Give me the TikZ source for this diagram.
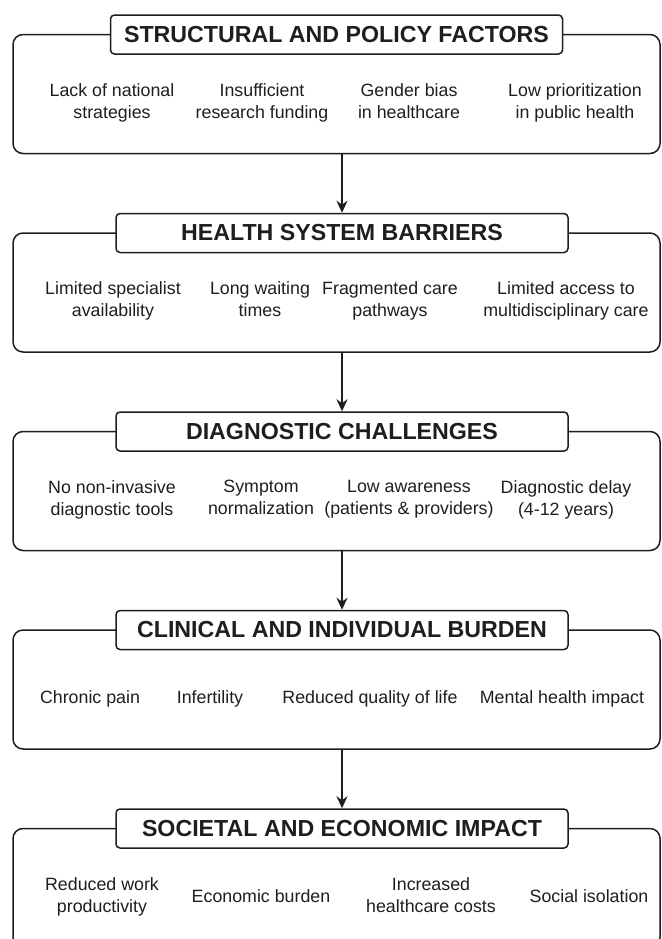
\documentclass[tikz,border=0pt]{standalone}
\usepackage{fontspec}
\setmainfont{Liberation Sans}
\usepackage{tikz}
\usetikzlibrary{arrows.meta,positioning}
\definecolor{ink}{RGB}{30,30,30}

\begin{document}
\begin{tikzpicture}[x=0.5pt,y=-0.5pt,>={Stealth[length=6pt,width=5.5pt]},
  panel/.style={draw=ink,line width=0.75pt,rounded corners=5pt,minimum width=323.5pt,minimum height=59.5pt,inner sep=0pt},
  head/.style={draw=ink,line width=0.75pt,rounded corners=2pt,fill=white,text=ink,minimum width=226pt,minimum height=19.5pt,inner sep=0pt,font=\fontsize{11.6}{14}\selectfont\bfseries},
  item/.style={align=center,text=ink,inner sep=1pt,font=\fontsize{8.9}{11}\selectfont,execute at begin node=\strut,execute at end node=\strut},
  flow/.style={->,draw=ink,line width=0.75pt}]
  \useasboundingbox (0,0) rectangle (661,939);
  % structural and policy factors
  \node[panel] (P0) at (336.5,94) {};
  \node[head] (H0) at (336.5,34.5) {STRUCTURAL AND POLICY FACTORS};
  \node[item] (A1) at (112,104) {Lack of national\\strategies};
  \node[item] (A2) at (262,104) {Insufficient\\research funding};
  \node[item] (A3) at (409,104) {Gender bias\\in healthcare};
  \node[item] (A4) at (575,104) {Low prioritization\\in public health};
  % health system barriers
  \node[panel] (P1) at (336.5,292.5) {};
  \node[head] (H1) at (342,233) {HEALTH SYSTEM BARRIERS};
  \node[item] (B1) at (113,302.5) {Limited specialist\\availability};
  \node[item] (B2) at (260,302.5) {Long waiting\\times};
  \node[item] (B3) at (390,302.5) {Fragmented care\\pathways};
  \node[item] (B4) at (566,302.5) {Limited access to\\multidisciplinary care};
  % diagnostic challenges
  \node[panel] (P2) at (336.5,491) {};
  \node[head] (H2) at (342,431.5) {DIAGNOSTIC CHALLENGES};
  \node[item] (C1) at (112,501) {No non-invasive\\diagnostic tools};
  \node[item] (C2) at (261,501) {Symptom\\normalization};
  \node[item] (C3) at (409,501) {Low awareness\\(patients \& providers)};
  \node[item] (C4) at (566,501) {Diagnostic delay\\(4-12 years)};
  % clinical and individual burden
  \node[panel] (P3) at (336.5,689.5) {};
  \node[head] (H3) at (342,630) {CLINICAL AND INDIVIDUAL BURDEN};
  \node[item] (D1) at (90,699) {Chronic pain};
  \node[item] (D2) at (210,699) {Infertility};
  \node[item] (D3) at (370,699) {Reduced quality of life};
  \node[item] (D4) at (562,699) {Mental health impact};
  % societal and economic impact
  \node[panel] (P4) at (336.5,888) {};
  \node[head] (H4) at (342,828.5) {SOCIETAL AND ECONOMIC IMPACT};
  \node[item] (E1) at (102,898) {Reduced work\\productivity};
  \node[item] (E2) at (261,898) {Economic burden};
  \node[item] (E3) at (431,898) {Increased\\healthcare costs};
  \node[item] (E4) at (589,898) {Social isolation};
  % links
  \draw[flow] (P0.south -| H1.north) -- (H1.north);
  \draw[flow] (P1.south -| H2.north) -- (H2.north);
  \draw[flow] (P2.south -| H3.north) -- (H3.north);
  \draw[flow] (P3.south -| H4.north) -- (H4.north);
\end{tikzpicture}
\end{document}
